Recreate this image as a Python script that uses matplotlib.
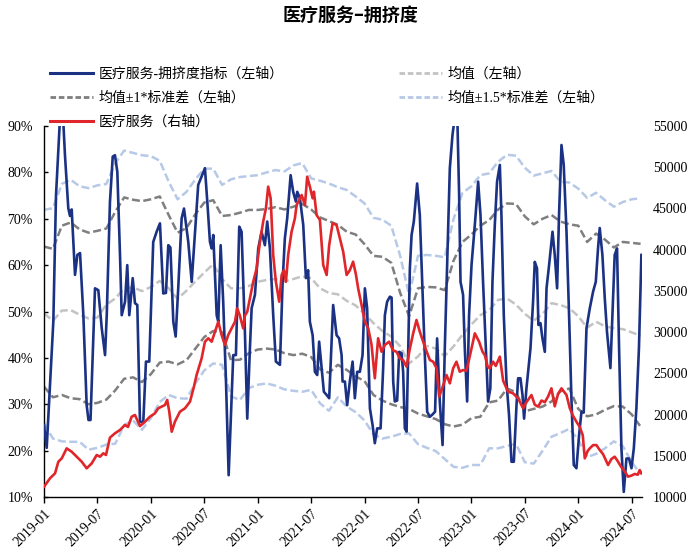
import numpy as np
import matplotlib
matplotlib.use("Agg")
import matplotlib.pyplot as plt
from matplotlib.lines import Line2D

plt.rcParams['font.family'] = ['Liberation Serif', 'Noto Sans CJK SC', 'DejaVu Sans']
plt.rcParams['axes.unicode_minus'] = False

# crowding index (left axis, %), x in decimal years
blue = [
    (2019.000, 25.5), (2019.025, 20.6), (2019.087, 47.8), (2019.112, 75.0), (2019.150, 92.0),
    (2019.178, 92.0), (2019.196, 83.7), (2019.227, 72.3), (2019.243, 70.6), (2019.259, 72.0),
    (2019.290, 57.9), (2019.312, 62.2), (2019.337, 62.6), (2019.368, 49.2), (2019.399, 29.8),
    (2019.416, 26.6), (2019.435, 26.6), (2019.477, 55.0), (2019.508, 54.6), (2019.540, 46.4),
    (2019.571, 40.6), (2019.587, 49.2), (2019.617, 73.6), (2019.643, 83.4), (2019.664, 83.7),
    (2019.686, 80.1), (2019.711, 62.2), (2019.727, 49.2), (2019.758, 52.1), (2019.779, 60.0),
    (2019.798, 49.2), (2019.830, 57.2), (2019.851, 51.8), (2019.873, 51.4), (2019.898, 26.2),
    (2019.929, 26.2), (2019.954, 39.2), (2019.985, 39.2), (2020.022, 65.0), (2020.054, 67.2),
    (2020.085, 69.0), (2020.116, 53.9), (2020.141, 54.0), (2020.163, 64.3), (2020.183, 63.8),
    (2020.210, 47.8), (2020.232, 44.6), (2020.256, 55.0), (2020.288, 70.1), (2020.310, 72.2),
    (2020.350, 65.0), (2020.382, 56.4), (2020.413, 67.2), (2020.443, 77.3), (2020.475, 79.1),
    (2020.506, 80.9), (2020.528, 73.7), (2020.553, 65.0), (2020.569, 63.6), (2020.584, 66.5),
    (2020.616, 49.2), (2020.631, 47.8), (2020.653, 64.3), (2020.677, 52.1), (2020.703, 34.9),
    (2020.728, 14.7), (2020.756, 31.3), (2020.771, 40.6), (2020.796, 40.6), (2020.827, 68.3),
    (2020.849, 67.2), (2020.880, 45.6), (2020.902, 26.9), (2020.927, 42.1), (2020.943, 50.7),
    (2020.974, 53.6), (2021.005, 63.6), (2021.036, 67.2), (2021.067, 64.3), (2021.089, 69.4),
    (2021.114, 63.6), (2021.145, 49.2), (2021.170, 39.2), (2021.208, 38.5), (2021.233, 56.4),
    (2021.254, 65.8), (2021.276, 70.1), (2021.308, 79.4), (2021.332, 75.8), (2021.357, 73.7),
    (2021.370, 75.8), (2021.395, 74.4), (2021.426, 68.7), (2021.451, 57.2), (2021.472, 58.9),
    (2021.488, 47.8), (2021.514, 44.9), (2021.535, 37.0), (2021.557, 36.3), (2021.575, 43.5),
    (2021.598, 37.8), (2021.619, 32.7), (2021.645, 32.0), (2021.669, 31.3), (2021.706, 51.4),
    (2021.738, 44.9), (2021.762, 44.2), (2021.785, 40.6), (2021.794, 34.9), (2021.816, 34.9),
    (2021.837, 29.8), (2021.862, 34.9), (2021.888, 39.2), (2021.909, 31.3), (2021.931, 37.0),
    (2021.956, 37.0), (2021.981, 40.6), (2022.003, 55.0), (2022.024, 50.7), (2022.050, 29.1),
    (2022.075, 25.5), (2022.096, 21.6), (2022.118, 24.8), (2022.150, 24.8), (2022.174, 37.8),
    (2022.190, 49.2), (2022.211, 52.1), (2022.237, 53.2), (2022.253, 53.0), (2022.268, 34.9),
    (2022.283, 30.6), (2022.305, 30.8), (2022.324, 41.3), (2022.346, 41.0), (2022.361, 37.0),
    (2022.377, 24.8), (2022.393, 24.1), (2022.408, 40.6), (2022.424, 59.3), (2022.440, 66.5),
    (2022.461, 69.4), (2022.492, 77.6), (2022.517, 70.8), (2022.543, 54.3), (2022.564, 40.6),
    (2022.586, 28.4), (2022.611, 27.3), (2022.636, 27.8), (2022.660, 28.4), (2022.679, 44.2),
    (2022.704, 30.6), (2022.730, 21.2), (2022.751, 42.1), (2022.773, 60.0), (2022.798, 80.9),
    (2022.823, 88.1), (2022.845, 92.0), (2022.868, 92.0), (2022.885, 75.1), (2022.898, 56.4),
    (2022.922, 53.6), (2022.938, 42.1), (2022.960, 30.6), (2022.978, 49.2), (2023.001, 60.0),
    (2023.032, 68.7), (2023.063, 78.0), (2023.085, 70.8), (2023.109, 56.4), (2023.135, 42.1),
    (2023.156, 30.6), (2023.177, 33.4), (2023.197, 56.4), (2023.219, 68.7), (2023.240, 78.0),
    (2023.266, 81.6), (2023.281, 70.8), (2023.303, 49.2), (2023.328, 34.9), (2023.352, 27.7),
    (2023.375, 17.6), (2023.397, 17.6), (2023.422, 29.8), (2023.437, 35.6), (2023.459, 35.6),
    (2023.478, 32.0), (2023.493, 26.9), (2023.515, 33.4), (2023.540, 39.2), (2023.553, 42.1),
    (2023.577, 52.1), (2023.593, 60.7), (2023.614, 59.3), (2023.627, 47.1), (2023.646, 47.5),
    (2023.665, 44.2), (2023.687, 41.3), (2023.703, 55.0), (2023.727, 60.0), (2023.759, 67.2),
    (2023.780, 62.2), (2023.802, 55.0), (2023.820, 70.8), (2023.843, 85.9), (2023.864, 81.6),
    (2023.890, 67.2), (2023.914, 49.2), (2023.936, 31.3), (2023.958, 16.9), (2023.983, 16.2),
    (2024.008, 23.4), (2024.030, 28.4), (2024.051, 28.2), (2024.077, 46.4), (2024.108, 50.7),
    (2024.139, 54.3), (2024.164, 56.4), (2024.185, 63.6), (2024.201, 68.0), (2024.226, 62.2),
    (2024.248, 52.9), (2024.269, 45.6), (2024.301, 37.8), (2024.320, 49.2), (2024.341, 62.2),
    (2024.363, 63.6), (2024.382, 42.1), (2024.404, 20.5), (2024.426, 11.1), (2024.451, 18.3),
    (2024.475, 18.3), (2024.498, 16.2), (2024.520, 20.5), (2024.544, 29.1), (2024.568, 42.1),
    (2024.591, 62.2),
]

# sector index (right axis)
red = [
    (2019.000, 11250), (2019.056, 12270), (2019.103, 12870), (2019.134, 14280), (2019.166, 14690),
    (2019.212, 15900), (2019.259, 15490), (2019.306, 14890), (2019.353, 14280), (2019.399, 13480),
    (2019.446, 14080), (2019.493, 15090), (2019.524, 14890), (2019.555, 15300), (2019.580, 15100),
    (2019.617, 17200), (2019.664, 17730), (2019.711, 18130), (2019.758, 18740), (2019.786, 18500),
    (2019.820, 19740), (2019.851, 19950), (2019.898, 18600), (2019.945, 19130), (2019.991, 19740),
    (2020.038, 20150), (2020.069, 20760), (2020.101, 20960), (2020.132, 21160), (2020.153, 21770),
    (2020.172, 20350), (2020.195, 17920), (2020.225, 19130), (2020.272, 20350), (2020.319, 20760),
    (2020.366, 21560), (2020.403, 23380), (2020.428, 24800), (2020.475, 26820), (2020.506, 28840),
    (2020.537, 29250), (2020.569, 28840), (2020.600, 30050), (2020.631, 31260), (2020.662, 29650),
    (2020.693, 28440), (2020.724, 29650), (2020.756, 30460), (2020.787, 31260), (2020.808, 32880),
    (2020.833, 32000), (2020.864, 30460), (2020.880, 32000), (2020.902, 32470), (2020.927, 34100),
    (2020.958, 36110), (2020.990, 37740), (2021.021, 40970), (2021.051, 43390), (2021.077, 45020),
    (2021.098, 47640), (2021.121, 46230), (2021.145, 39350), (2021.170, 36110), (2021.201, 33690),
    (2021.224, 36930), (2021.245, 37500), (2021.264, 36110), (2021.285, 39350), (2021.317, 42180),
    (2021.348, 43800), (2021.364, 45420), (2021.388, 46020), (2021.411, 46630), (2021.442, 45420),
    (2021.463, 48850), (2021.488, 47640), (2021.514, 46230), (2021.526, 47030), (2021.551, 44200),
    (2021.582, 43600), (2021.613, 38140), (2021.645, 36930), (2021.669, 40570), (2021.701, 43200),
    (2021.738, 42990), (2021.769, 41380), (2021.800, 39750), (2021.832, 36930), (2021.862, 37500),
    (2021.893, 38540), (2021.919, 37000), (2021.940, 35310), (2021.972, 33290), (2022.003, 31260),
    (2022.034, 30460), (2022.065, 28500), (2022.096, 24400), (2022.127, 29250), (2022.159, 27620),
    (2022.190, 28440), (2022.230, 28840), (2022.265, 27800), (2022.299, 27620), (2022.330, 26820),
    (2022.361, 26600), (2022.393, 25810), (2022.424, 28000), (2022.455, 29850), (2022.486, 31470),
    (2022.517, 30050), (2022.564, 28240), (2022.611, 26620), (2022.642, 26410), (2022.674, 25610),
    (2022.698, 22170), (2022.732, 23400), (2022.767, 24800), (2022.798, 23790), (2022.829, 25610),
    (2022.860, 26410), (2022.891, 25200), (2022.922, 25400), (2022.953, 25300), (2022.984, 27020),
    (2023.032, 29850), (2023.072, 28840), (2023.104, 27620), (2023.125, 27220), (2023.153, 25800),
    (2023.172, 25610), (2023.203, 26410), (2023.228, 25900), (2023.266, 27020), (2023.297, 24100),
    (2023.343, 22770), (2023.387, 22600), (2023.437, 21970), (2023.484, 20760), (2023.515, 21500),
    (2023.562, 22370), (2023.593, 21200), (2023.624, 20960), (2023.656, 21700), (2023.687, 21500),
    (2023.718, 22200), (2023.749, 23180), (2023.780, 21000), (2023.811, 22500), (2023.843, 23180),
    (2023.890, 22370), (2023.921, 20760), (2023.949, 19900), (2023.983, 19130), (2024.014, 18500),
    (2024.042, 17500), (2024.061, 14690), (2024.089, 15600), (2024.108, 15900), (2024.139, 16300),
    (2024.170, 16300), (2024.201, 15700), (2024.232, 15200), (2024.257, 14500), (2024.279, 13880),
    (2024.310, 14600), (2024.341, 14890), (2024.372, 14300), (2024.404, 13600), (2024.435, 13100),
    (2024.466, 12470), (2024.498, 12600), (2024.529, 12800), (2024.557, 12700), (2024.575, 13270),
    (2024.591, 12870),
]

# bands, one value per month from 2019-01 to 2024-08 (left axis, %)
mean_v = [49.6, 48.0, 50.2, 50.3, 49.3, 48.5, 48.7, 51.5, 52.8, 55.0, 55.2, 54.4,
          55.3, 56.6, 55.0, 52.7, 54.5, 56.5, 58.4, 60.2, 57.0, 55.0, 55.0, 55.5,
          56.4, 56.8, 57.0, 56.5, 57.0, 57.6, 57.2, 55.0, 54.0, 53.7, 52.3, 51.3,
          49.5, 47.5, 45.8, 44.6, 42.5, 38.8, 40.3, 42.6, 42.0, 40.4, 42.5, 45.0,
          47.2, 49.2, 50.3, 52.5, 52.8, 51.5, 49.5, 48.0, 49.5, 51.8, 51.4, 50.7,
          49.0, 46.5, 47.8, 46.8, 46.4, 46.2, 45.5, 44.8]
up1_v = [64.0, 63.5, 68.5, 69.2, 67.7, 67.0, 67.4, 67.9, 71.5, 74.6, 74.1, 73.8,
         74.2, 74.8, 70.8, 67.0, 68.0, 71.0, 73.5, 74.0, 70.6, 70.8, 71.3, 71.9,
         71.9, 72.1, 72.5, 72.0, 72.6, 73.2, 72.0, 70.3, 69.5, 68.7, 67.2, 66.6,
         64.5, 62.0, 61.8, 60.5, 54.0, 49.0, 55.0, 55.3, 55.2, 54.6, 61.0, 65.0,
         66.6, 68.5, 69.7, 72.0, 73.3, 73.2, 70.5, 68.8, 70.0, 70.8, 69.4, 68.8,
         68.5, 65.0, 66.8, 65.5, 63.8, 65.0, 64.8, 64.6]
dn1_v = [33.8, 31.5, 32.0, 31.3, 31.1, 30.0, 30.3, 31.0, 33.0, 35.5, 35.8, 34.8,
         36.5, 39.0, 39.2, 38.6, 39.5, 42.0, 44.5, 45.8, 45.5, 39.5, 39.6, 41.0,
         41.8, 42.0, 41.8, 41.0, 40.6, 40.9, 40.2, 37.5, 36.8, 38.5, 37.4, 36.0,
         35.0, 32.0, 30.8, 30.0, 29.4, 29.0, 28.0, 27.4, 26.8, 25.7, 25.2, 25.6,
         27.0, 27.3, 30.4, 30.8, 33.4, 32.6, 28.5, 29.0, 29.5, 30.6, 32.8, 33.4,
         29.0, 27.4, 27.8, 28.8, 29.6, 29.5, 27.8, 25.2]
up15_v = [71.9, 72.3, 77.5, 78.4, 77.0, 76.6, 77.2, 77.5, 82.0, 84.7, 84.2, 83.7,
          83.5, 82.5, 78.0, 74.2, 75.8, 78.5, 80.8, 80.8, 77.3, 78.5, 79.0, 79.2,
          79.4, 80.0, 80.5, 80.2, 81.5, 82.0, 78.7, 78.2, 77.6, 76.8, 76.2, 74.8,
          73.3, 70.2, 69.8, 68.5, 62.0, 53.5, 62.0, 62.2, 62.0, 61.7, 70.0, 75.6,
          77.0, 79.4, 79.8, 82.3, 83.8, 83.6, 81.0, 79.3, 79.8, 80.3, 78.0, 77.8,
          76.5, 74.5, 75.6, 74.0, 72.6, 73.6, 74.2, 74.4]
dn15_v = [25.9, 22.6, 22.0, 21.9, 21.9, 20.2, 20.6, 21.3, 21.5, 25.5, 26.5, 24.5,
          27.0, 30.5, 32.0, 31.3, 31.2, 34.5, 37.3, 38.8, 38.5, 31.7, 30.9, 33.5,
          34.2, 34.5, 34.0, 33.2, 32.9, 32.7, 33.1, 30.2, 28.6, 31.5, 29.5, 28.3,
          26.5, 23.5, 22.6, 23.0, 23.6, 23.7, 21.4, 20.6, 19.9, 18.2, 16.5, 16.3,
          16.9, 16.9, 20.5, 20.5, 21.0, 21.5, 17.5, 17.2, 20.0, 23.0, 23.8, 24.7,
          22.4, 18.6, 19.3, 20.5, 22.0, 21.0, 17.5, 15.0]

tick_labels = ['2019-01', '2019-07', '2020-01', '2020-07', '2021-01', '2021-07',
               '2022-01', '2022-07', '2023-01', '2023-07', '2024-01', '2024-07']

bt, bv = zip(*blue)
rt, rv = zip(*red)
band_t = 2019 + np.arange(len(mean_v)) / 12

c_blue = '#1B3284'
c_red = '#E0262B'
c_mean = '#C3C3C3'
c_sd1 = '#7F7F7F'
c_sd15 = '#B7C9E6'
dash = (3.2, 1.4)

fig = plt.figure(figsize=(7, 5.58), dpi=100)
ax = fig.add_axes([0.0629, 0.1093, 0.854, 0.6649])

ax.plot(band_t, up15_v, color=c_sd15, lw=1.8, dashes=dash)
ax.plot(band_t, dn15_v, color=c_sd15, lw=1.8, dashes=dash)
ax.plot(band_t, up1_v, color=c_sd1, lw=1.8, dashes=dash)
ax.plot(band_t, dn1_v, color=c_sd1, lw=1.8, dashes=dash)
ax.plot(band_t, mean_v, color=c_mean, lw=1.8, dashes=dash)
ax.plot(bt, bv, color=c_blue, lw=1.9, zorder=3)

ax.set_xlim(2019.0, 2024.595)
ax.set_ylim(10, 90)
ax.set_yticks(range(10, 91, 10))
ax.set_yticklabels([f'{v}%' for v in range(10, 91, 10)], fontsize=10)
ax.set_xticks([2019 + i * 0.5 for i in range(len(tick_labels))])
ax.set_xticklabels(tick_labels, rotation=45, ha='right', rotation_mode='anchor', fontsize=10)
ax.tick_params(axis='x', direction='out', length=4, width=1, pad=3)
ax.tick_params(axis='y', direction='in', length=3, width=1, pad=8)
for s in ['top', 'right']:
    ax.spines[s].set_visible(False)
ax.spines['left'].set_linewidth(1.0)
ax.spines['bottom'].set_linewidth(1.0)

ax2 = ax.twinx()
ax2.plot(rt, rv, color=c_red, lw=1.9)
ax2.set_ylim(10000, 55000)
ax2.set_yticks(range(10000, 55001, 5000))
ax2.set_yticklabels([str(v) for v in range(10000, 55001, 5000)], fontsize=10)
ax2.tick_params(axis='y', length=0, pad=8)
for s in ['top', 'right', 'left', 'bottom']:
    ax2.spines[s].set_visible(False)

fig.text(0.5, 0.972, '医疗服务–拥挤度', ha='center', va='center', fontsize=13,
         fontweight='bold', family=['Noto Sans CJK SC', 'DejaVu Sans'])

handles = [
    Line2D([], [], color=c_blue, lw=2.2),
    Line2D([], [], color=c_sd1, lw=2.0, dashes=(2, 1)),
    Line2D([], [], color=c_red, lw=2.2),
    Line2D([], [], color=c_mean, lw=2.0, dashes=(2, 1)),
    Line2D([], [], color=c_sd15, lw=2.0, dashes=(2, 1)),
]
labels = ['医疗服务-拥挤度指标（左轴）', '均值±1*标准差（左轴）', '医疗服务（右轴）',
          '均值（左轴）', '均值±1.5*标准差（左轴）']
fig.legend(handles, labels, loc='upper left', bbox_to_anchor=(0.071, 0.879), ncol=2,
           frameon=False, fontsize=10, handlelength=3.1, handletextpad=0.4,
           columnspacing=8.3, labelspacing=0.76, borderaxespad=0, borderpad=0)

fig.savefig('out.png', dpi=100)
